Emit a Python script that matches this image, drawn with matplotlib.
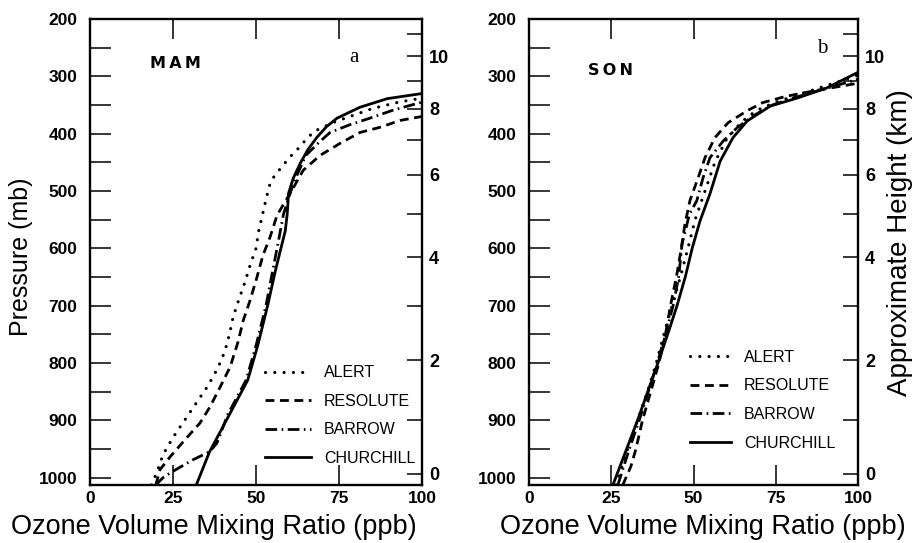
import matplotlib
matplotlib.use("Agg")
import matplotlib.pyplot as plt
from matplotlib.ticker import MultipleLocator

# Ozone profiles, pressure (mb) vs mixing ratio (ppb)
stations = ["ALERT", "RESOLUTE", "BARROW", "CHURCHILL"]

# spring (MAM)
mam_alert_p = [1013, 990, 960, 930, 900, 870, 840, 810, 780, 750, 720, 690, 660, 630, 600, 570,
               540, 510, 490, 476, 459, 441, 426, 412, 396, 380, 368, 356, 345, 338]
mam_alert_x = [18.5, 20.2, 22, 25, 28.5, 32, 35.5, 38.4, 40.6, 42, 43.1, 44.8, 46.6, 48.2, 50, 50.8,
               52, 53.2, 54.1, 55.3, 57.6, 60.2, 62.7, 64.8, 67.5, 73.5, 79.3, 85.2, 93, 100]
mam_resolute_p = [1013, 986, 964, 934, 905, 877, 842, 807, 765, 725, 691, 650, 612, 581, 543, 528,
                  499, 464, 438, 417, 398, 389, 377, 370]
mam_resolute_x = [19.8, 21.1, 24.1, 28.6, 33.1, 36.1, 39.2, 42.2, 44.5, 46.2, 48.2, 50.3, 52.1, 54.2,
                  56.3, 57.8, 60.8, 64.2, 69.3, 75.3, 81.3, 87.3, 93.4, 100]
mam_barrow_p = [1013, 1000, 990, 969, 955, 940, 890, 830, 770, 700, 640, 586, 540, 500, 470, 438,
                415, 398, 385, 373, 359, 345]
mam_barrow_x = [19.8, 22, 24.7, 31, 36, 38.2, 41.5, 47, 50, 53, 55, 56.8, 58.3, 60.5, 62.5, 65,
                69, 72.3, 78, 84.3, 91.3, 100]
mam_churchill_p = [1013, 955, 890, 830, 770, 700, 640, 600, 570, 540, 504, 478, 452, 428, 406, 388,
                   373, 354, 339, 330]
mam_churchill_x = [32, 36, 42, 47.5, 50.5, 53.5, 55.8, 57.5, 58.8, 59.4, 59.8, 61.2, 63.3, 65.6, 68.4, 71.2,
                   74.4, 81.3, 89.5, 100]

# autumn (SON)
son_alert_p = [1013, 950, 900, 850, 800, 750, 700, 650, 600, 550, 500, 450, 410, 380, 360, 345, 330, 315, 298]
son_alert_x = [26.5, 30, 33, 36, 38.7, 41, 43.5, 46, 48.3, 50.5, 53.5, 56.5, 60, 64.5, 69, 75, 83, 91, 100]
son_resolute_p = [1013, 980, 950, 900, 850, 800, 750, 700, 650, 600, 558, 517, 477, 442, 407, 381,
                  360, 346, 335, 325, 312]
son_resolute_x = [28.5, 31, 32.5, 34.5, 37, 39.5, 41.5, 43, 44.8, 46.3, 47.4, 48.9, 51.4, 53.5, 56.5, 60.5,
                  66.3, 71, 78, 87, 100]
son_barrow_p = [1013, 950, 900, 800, 750, 700, 650, 593, 540, 517, 477, 442, 413, 390, 369, 350, 335, 320, 305]
son_barrow_x = [27, 30.5, 33.5, 39, 41.5, 43.8, 45.5, 46.5, 48.8, 51, 52.9, 55, 59, 63.2, 68.1, 74, 82, 91, 100]
son_churchill_p = [1013, 900, 800, 744, 700, 650, 600, 552, 505, 448, 407, 378, 352, 338, 320, 293]
son_churchill_x = [25.5, 33, 39.2, 42.5, 45, 47.5, 49.6, 52, 55, 58.1, 62, 66.3, 73.3, 81.5, 90.6, 100]

# approximate height scale
height_km = [0, 1, 2, 3, 4, 5, 6, 7, 8, 9, 10, 11]
height_p = [993, 899, 795, 701, 616, 540, 472, 411, 357, 308, 265, 227]

x_ticks = [0, 25, 50, 75, 100]

styles = {
    "ALERT": dict(linestyle=(0, (0.01, 2.9)), dash_capstyle="round", lw=2.3),
    "RESOLUTE": dict(linestyle=(0, (3.2, 2.0)), lw=2.0),
    "BARROW": dict(linestyle=(0, (4.2, 1.6, 0.6, 1.6)), lw=2.0),
    "CHURCHILL": dict(linestyle="-", lw=2.0),
}

tick_font = dict(family="Liberation Sans", weight="bold", size=12.5)
narrow = ["Liberation Sans Narrow", "Liberation Sans", "DejaVu Sans"]

fig = plt.figure(figsize=(9.16, 5.43), dpi=100)
ax_a = fig.add_axes([0.0983, 0.1068, 0.3624, 0.8582])
ax_b = fig.add_axes([0.5775, 0.1068, 0.3592, 0.8582])

panels = [
    (ax_a, "MAM", "a", [(mam_alert_p, mam_alert_x), (mam_resolute_p, mam_resolute_x),
                        (mam_barrow_p, mam_barrow_x), (mam_churchill_p, mam_churchill_x)],
     (0.527, 0.257), 2.9, (0.18, 0.905), (0.78, 0.918)),
    (ax_b, "SON", "b", [(son_alert_p, son_alert_x), (son_resolute_p, son_resolute_x),
                        (son_barrow_p, son_barrow_x), (son_churchill_p, son_churchill_x)],
     (0.489, 0.29), 2.6, (0.18, 0.89), (0.875, 0.936)),
]

for ax, season, letter, profiles, leg_xy, hlen, season_xy, letter_xy in panels:
    for name, (p, x) in zip(stations, profiles):
        ax.plot(x, p, color="black", label=name, **styles[name])

    ax.set_xlim(0, 100)
    ax.set_ylim(1013, 200)
    for sp in ax.spines.values():
        sp.set_linewidth(1.7)

    ax.set_xticks(x_ticks)
    ax.yaxis.set_major_locator(MultipleLocator(100))
    ax.yaxis.set_minor_locator(MultipleLocator(50))
    ax.set_yticks(range(200, 1001, 100))
    ax.tick_params(axis="x", direction="in", length=14.5, width=1.1, top=True, pad=4)
    ax.tick_params(axis="y", which="both", direction="in", length=15, width=1.1, right=False, pad=9)
    for lab in ax.get_xticklabels() + ax.get_yticklabels():
        lab.set_fontproperties(tick_font)

    # height axis on the right
    ax2 = ax.twinx()
    ax2.set_ylim(1013, 200)
    ax2.set_yticks(height_p)
    ax2.set_yticklabels([str(h) if h % 2 == 0 else "" for h in height_km])
    ax2.tick_params(axis="y", direction="in", length=11, width=1.1, pad=5)
    for lab in ax2.get_yticklabels():
        lab.set_fontproperties(dict(family=narrow, weight="bold", size=13))
    for sp in ax2.spines.values():
        sp.set_visible(False)

    ax.text(season_xy[0], season_xy[1], "\u2009".join(season), transform=ax.transAxes,
            fontsize=11.5, fontweight="bold", family="DejaVu Sans", va="center")
    ax.text(letter_xy[0], letter_xy[1], letter, transform=ax.transAxes, fontsize=15,
            family="Liberation Serif", va="center")

    ax.legend(loc="upper left", bbox_to_anchor=leg_xy, frameon=False, borderpad=0,
              borderaxespad=0, handlelength=hlen, handletextpad=0.8, labelspacing=0.85,
              prop=dict(family=narrow, size=11.5))

fig.text(21 / 916, 1 - 257 / 543, "Pressure (mb)", rotation=90, ha="center", va="center",
         family="Liberation Sans", fontsize=18)
fig.text(900 / 916, 1 - 243 / 543, "Approximate Height (km)", rotation=90, ha="center",
         va="center", family="Liberation Sans", fontsize=20)
fig.text(214 / 916, 1 - 527 / 543, "Ozone Volume Mixing Ratio (ppb)", ha="center",
         va="center", family="Liberation Sans", fontsize=19.5)
fig.text(703 / 916, 1 - 527 / 543, "Ozone Volume Mixing Ratio (ppb)", ha="center",
         va="center", family="Liberation Sans", fontsize=19.5)

fig.savefig("out.png", dpi=100)
